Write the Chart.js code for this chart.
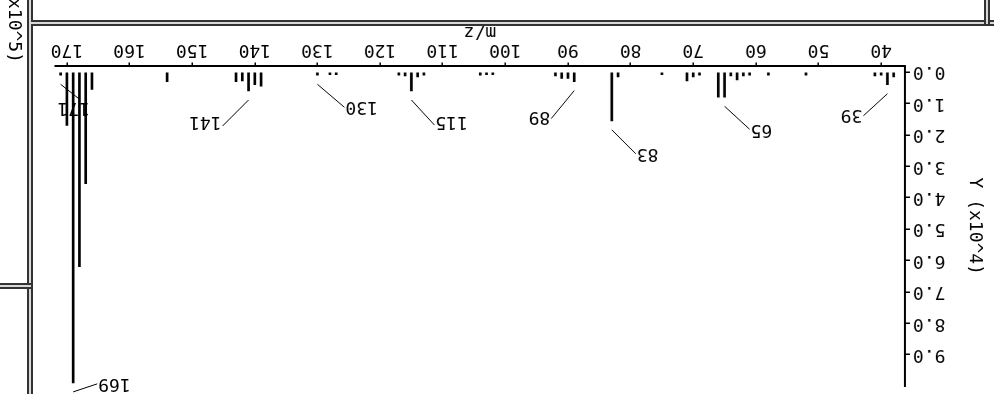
<!DOCTYPE html>
<html>
<head>
<meta charset="utf-8">
<script src="https://cdn.jsdelivr.net/npm/chart.js@4/dist/chart.umd.min.js"></script>
<style>
  html, body { margin: 0; padding: 0; background: #fff; overflow: hidden; }
  #wrap { position: relative; width: 994px; height: 394px; overflow: hidden; background: #fff; transform: rotate(180deg); transform-origin: 50% 50%; }
  #c { position: absolute; left: 0; top: 0; }
  .dv { position: absolute; box-sizing: border-box; border-left: 2px solid #333; border-right: 2px solid #333; background: #d8d8d8; }
  .dh { position: absolute; box-sizing: border-box; border-top: 2px solid #333; border-bottom: 2px solid #333; background: #d8d8d8; }
  #frag { position: absolute; left: 829px; top: 470px; width: 300px; height: 22px; line-height: 22px; text-align: right; font: 18px "DejaVu Sans Mono", monospace; color: #000; transform: rotate(-90deg); white-space: nowrap; }
</style>
</head>
<body>
<div id="wrap">
  <canvas id="c" width="963" height="374"></canvas>
  <div class="dv" style="left:961px;top:0;width:6px;height:394px"></div>
  <div class="dh" style="left:0;top:368px;width:963px;height:6px"></div>
  <div class="dh" style="left:963px;top:105px;width:31px;height:6px"></div>
  <div class="dv" style="left:4px;top:370px;width:6px;height:24px"></div>
  <div id="frag">Y (x10^5)</div>
</div>
<script>
// m/z values of the peaks
const mz = [38, 39, 40, 41, 52, 58, 61, 62, 63, 64, 65, 66, 69, 70, 71, 75, 82, 83, 89, 90, 91, 92,
            102, 103, 104, 113, 114, 115, 116, 117, 127, 128, 130, 139, 140, 141, 142, 143, 154,
            166, 167, 168, 169, 170, 171];
// intensities in units of 10^4
const intensity = [0.15, 0.4, 0.1, 0.12, 0.1, 0.1, 0.1, 0.12, 0.25, 0.12, 0.8, 0.8, 0.1, 0.15, 0.28, 0.08, 0.15, 1.55, 0.3, 0.2, 0.2, 0.12,
                   0.08, 0.08, 0.1, 0.1, 0.15, 0.6, 0.12, 0.1, 0.08, 0.08, 0.1, 0.45, 0.4, 0.6, 0.28, 0.3, 0.3,
                   0.55, 3.55, 6.2, 9.9, 1.7, 0.1];
// labelled peaks
const labelledPeaks = [39, 65, 83, 89, 115, 130, 141, 169, 171];
// axis ticks
const xTickValues = [40, 50, 60, 70, 80, 90, 100, 110, 120, 130, 140, 150, 160, 170];
const yTickValues = [0, 1, 2, 3, 4, 5, 6, 7, 8, 9];
const xTitle = 'm/z';
const yTitle = 'Y (x10^4)';

// leader line geometry for each label (pixels)
const leaderStyle = {
  39:  { dx: 24,  dy: -22, align: 'left',   tx: 1,  ty: 1 },
  65:  { dx: -25, dy: -23, align: 'right',  tx: -1, ty: 0 },
  83:  { dx: -24, dy: -24, align: 'right',  tx: -1, ty: 0 },
  89:  { dx: 23,  dy: -28, align: 'left',   tx: 1,  ty: 2 },
  115: { dx: -23, dy: -25, align: 'right',  tx: -1, ty: 3 },
  130: { dx: -27, dy: -23, align: 'right',  tx: -1, ty: 1 },
  141: { dx: 26,  dy: -26, align: 'left',   tx: 1,  ty: 4 },
  169: { dx: -24, dy: 8,   align: 'right',  tx: -1, ty: 0 },
  171: { dx: -19, dy: -15, align: 'center', tx: 6,  ty: -8 }
};

const FONT = 'DejaVu Sans Mono';

const peakLabels = {
  id: 'peakLabels',
  afterDatasetsDraw(chart) {
    const { ctx, scales: { x, y } } = chart;
    ctx.save();
    ctx.strokeStyle = '#000';
    ctx.fillStyle = '#000';
    ctx.lineWidth = 1;
    ctx.font = '18px "' + FONT + '"';
    ctx.textBaseline = 'middle';
    labelledPeaks.forEach(m => {
      const i = mz.indexOf(m);
      const s = leaderStyle[m];
      const px = x.getPixelForValue(m);
      const py = y.getPixelForValue(intensity[i]);
      const sx = px, sy = py - 9;
      const ex = sx + s.dx, ey = sy + s.dy;
      ctx.beginPath();
      ctx.moveTo(sx, sy);
      ctx.lineTo(ex, ey);
      ctx.stroke();
      ctx.textAlign = s.align;
      ctx.fillText(String(m), ex + s.tx, ey + s.ty);
    });
    ctx.restore();
  }
};

Chart.defaults.color = '#000';
Chart.defaults.font.family = FONT;
Chart.defaults.font.size = 18;

new Chart(document.getElementById('c'), {
  type: 'bar',
  data: {
    datasets: [{
      data: mz.map((m, i) => ({ x: m, y: intensity[i] })),
      backgroundColor: '#000',
      borderWidth: 0,
      barThickness: 2
    }]
  },
  options: {
    responsive: false,
    maintainAspectRatio: false,
    devicePixelRatio: 1,
    animation: false,
    layout: { padding: { left: 0, right: 24, top: 8, bottom: 0 } },
    plugins: { legend: { display: false }, tooltip: { enabled: false } },
    scales: {
      x: {
        type: 'linear',
        min: 36.2,
        max: 171.9,
        offset: false,
        grid: { offset: false, drawOnChartArea: false, drawTicks: true, tickLength: 4, color: '#000', lineWidth: 1.5 },
        border: { display: true, color: '#000', width: 2 },
        ticks: { autoSkip: false, maxRotation: 0, padding: 2, font: { family: FONT, size: 18 }, callback: v => String(v) },
        afterBuildTicks: s => { s.ticks = xTickValues.map(v => ({ value: v })); },
        afterFit: s => { s.height = 46.5; s.paddingLeft = 0; s.paddingRight = 0; },
        title: { display: true, text: xTitle, font: { family: FONT, size: 18 }, padding: { top: 0, bottom: 1 } }
      },
      y: {
        type: 'linear',
        min: -0.18,
        max: 10,
        grid: { drawOnChartArea: false, drawTicks: true, tickLength: 5, color: '#000', lineWidth: 1.5 },
        border: { display: true, color: '#000', width: 2 },
        ticks: { padding: 3, font: { family: FONT, size: 18 }, callback: v => Number(v).toFixed(1) },
        afterBuildTicks: s => { s.ticks = yTickValues.map(v => ({ value: v })); },
        afterFit: s => { s.width = 89; s.paddingTop = 0; s.paddingBottom = 0; },
        title: { display: true, text: yTitle, font: { family: FONT, size: 18 }, padding: { top: 9, bottom: 0 } }
      }
    }
  },
  plugins: [peakLabels]
});
</script>
</body>
</html>
